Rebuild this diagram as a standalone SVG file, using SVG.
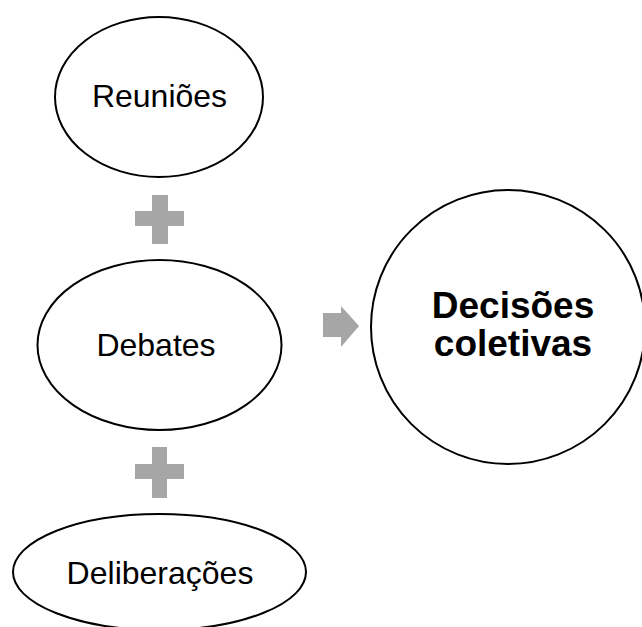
<svg xmlns="http://www.w3.org/2000/svg" width="642" height="627" viewBox="0 0 642 627">
  <style>
    .shape { fill: #ffffff; stroke: #000000; stroke-width: 2; }
    .label { font-family: "Liberation Sans", Arial, sans-serif; font-size: 32px; fill: #000000; text-anchor: middle; }
    .title { font-family: "Liberation Sans", Arial, sans-serif; font-size: 37px; font-weight: bold; fill: #000000; text-anchor: middle; }
    .op { fill: #a6a6a6; }
  </style>
  <rect width="642" height="627" fill="#ffffff"/>

  <g id="reunioes">
    <ellipse class="shape" cx="159" cy="97" rx="104" ry="80"/>
    <text class="label" x="159.5" y="107">Reuniões</text>
  </g>

  <g id="debates">
    <ellipse class="shape" cx="159.5" cy="345" rx="122" ry="85"/>
    <text class="label" x="156" y="356">Debates</text>
  </g>

  <g id="deliberacoes">
    <ellipse class="shape" cx="159.5" cy="572" rx="146.5" ry="58"/>
    <text class="label" x="160" y="584">Deliberações</text>
  </g>

  <g id="decisoes">
    <circle class="shape" cx="508" cy="327" r="137"/>
    <text class="title" x="513" y="318">Decisões</text>
    <text class="title" x="513" y="356">coletivas</text>
  </g>

  <g id="connectors">
    <!-- plus signs between the ellipses -->
    <path class="op" d="M152 195 H168 V211 H184 V226 H168 V244 H152 V226 H135 V211 H152 Z"/>
    <path class="op" d="M152 447 H167 V464 H184 V479 H167 V498 H152 V479 H135 V464 H152 Z"/>
    <!-- block arrow toward the result -->
    <path class="op" d="M323 313 H341 V306 L359 326 L341 347 V337 H323 Z"/>
  </g>
</svg>
